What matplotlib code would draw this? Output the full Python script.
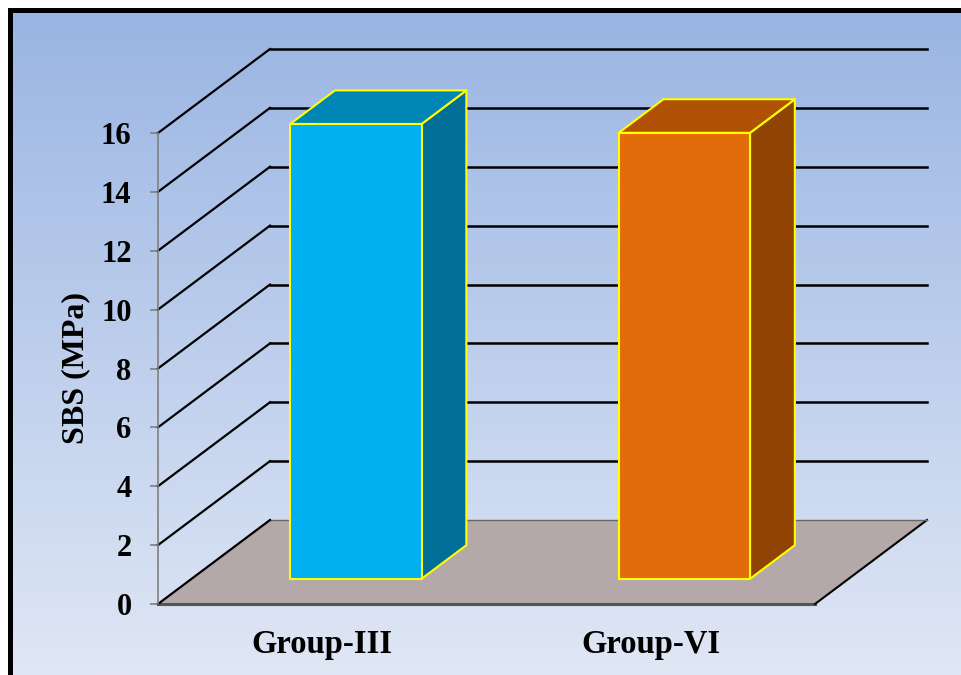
import numpy as np
import matplotlib
matplotlib.use("Agg")
import matplotlib.pyplot as plt
from matplotlib.patches import Polygon

# ---- data ----
categories = ["Group-III", "Group-VI"]
sbs_values = [15.45, 15.15]
y_ticks = [0, 2, 4, 6, 8, 10, 12, 14, 16]
y_label = "SBS (MPa)"

front_colors = ["#00B0F0", "#E36C0A"]
top_colors = ["#0086B4", "#B05104"]
side_colors = ["#006E96", "#914304"]

plt.rcParams['font.family'] = ['Liberation Serif', 'DejaVu Serif']
plt.rcParams['font.weight'] = 'bold'

W, H = 962, 675
fig = plt.figure(figsize=(W / 100, H / 100), dpi=100)
fig.patch.set_facecolor("white")

# background with gradient and black border (pixel frame)
bg = fig.add_axes([0, 0, 1, 1], zorder=0)
bg.set_xlim(0, W)
bg.set_ylim(H, 0)
bg.axis("off")
top_c = np.array([154, 181, 227]) / 255
bot_c = np.array([224, 231, 245]) / 255
t = np.linspace(0, 1, 256)[:, None]
grad = (top_c[None, :] * (1 - t) + bot_c[None, :] * t)[:, None, :]
bg.imshow(grad, extent=[12, W, H, 12], aspect="auto", zorder=0)
bg.plot([10, 10], [H, 10], color="black", lw=3.6, solid_capstyle="projecting", zorder=2)
bg.plot([10, W], [10, 10], color="black", lw=3.6, solid_capstyle="projecting", zorder=2)

# main axes = front plane of the 3D box
ax_left, ax_right = 158, 815
ax_bottom_px, ax_top_px = 604, 133
ax = fig.add_axes([ax_left / W, (H - ax_bottom_px) / H,
                   (ax_right - ax_left) / W, (ax_bottom_px - ax_top_px) / H], zorder=1)
ax.set_facecolor("none")
ncat = len(categories)
ymax = 16
ax.set_xlim(0, ncat)
ax.set_ylim(0, ymax)

# depth vector in data units
DX = 112 / (ax_right - ax_left) * ncat
DY = 84 / (ax_bottom_px - ax_top_px) * ymax


def P(x, y, d):
    return (x + d * DX, y + d * DY)


# floor
floor = Polygon([P(0, 0, 0), P(ncat, 0, 0), P(ncat, 0, 1), P(0, 0, 1)],
                closed=True, facecolor="#B5A8A8", edgecolor="none", clip_on=False, zorder=1)
ax.add_patch(floor)
# floor edges
ax.plot(*zip(P(0, 0, 0), P(ncat, 0, 0)), color="#555555", lw=2.2, clip_on=False, zorder=2)
ax.plot(*zip(P(ncat, 0, 0), P(ncat, 0, 1)), color="black", lw=1.5, clip_on=False, zorder=2)
ax.plot(*zip(P(0, 0, 1), P(ncat, 0, 1)), color="#666666", lw=1.0, clip_on=False, zorder=2)

# grid lines: left wall diagonals + back wall horizontals
for v in y_ticks:
    ax.plot(*zip(P(0, v, 0), P(0, v, 1)), color="black", lw=1.6, clip_on=False, zorder=2)
    if v > 0:
        ax.plot(*zip(P(0, v, 1), P(ncat, v, 1)), color="black", lw=1.8, clip_on=False, zorder=2)

# bars
half_w = 0.2
d0, d1 = 0.3, 0.7
for i, (val, fc, tc, sc) in enumerate(zip(sbs_values, front_colors, top_colors, side_colors)):
    xc = i + 0.5
    xl, xr = xc - half_w, xc + half_w
    front = [P(xl, 0, d0), P(xr, 0, d0), P(xr, val, d0), P(xl, val, d0)]
    top = [P(xl, val, d0), P(xr, val, d0), P(xr, val, d1), P(xl, val, d1)]
    side = [P(xr, 0, d0), P(xr, 0, d1), P(xr, val, d1), P(xr, val, d0)]
    for poly, c in ((side, sc), (top, tc), (front, fc)):
        ax.add_patch(Polygon(poly, closed=True, facecolor=c, edgecolor="#FFFF00",
                             lw=1.5, joinstyle="round", clip_on=False, zorder=3))

# axes styling
for s in ("top", "right", "bottom"):
    ax.spines[s].set_visible(False)
ax.spines["left"].set_color("#808080")
ax.spines["left"].set_linewidth(1.2)
ax.spines["left"].set_zorder(2.5)
ax.set_yticks(y_ticks)
ax.set_yticklabels([str(v) for v in y_ticks])
ax.tick_params(axis="y", direction="out", length=6, width=1.2, color="#808080",
               pad=13, labelsize=22, labelcolor="black")
ax.set_xticks([i + 0.5 for i in range(ncat)])
ax.set_xticklabels(categories)
ax.tick_params(axis="x", length=0, pad=18, labelsize=23.5, labelcolor="black")
for lbl in ax.get_xticklabels() + ax.get_yticklabels():
    lbl.set_fontweight("bold")
ax.set_ylabel(y_label, fontsize=23, fontweight="bold", labelpad=8)

fig.savefig("out.png", dpi=100)
